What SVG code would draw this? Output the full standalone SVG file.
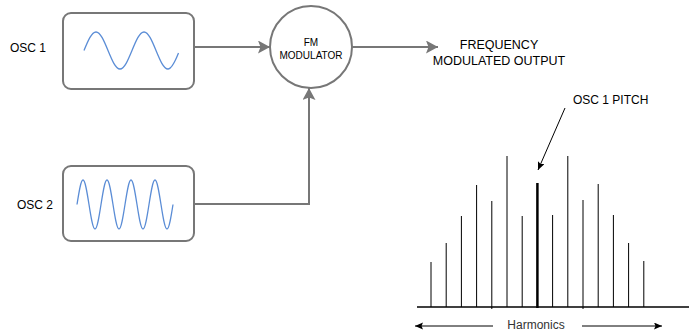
<svg xmlns="http://www.w3.org/2000/svg" width="699" height="331" viewBox="0 0 699 331">
  <style>
    .box { fill: #ffffff; stroke: #777777; stroke-width: 2; }
    .wave { fill: none; stroke: #5b8dd6; stroke-width: 1.3; }
    .conn { fill: none; stroke: #777777; stroke-width: 2; }
    .blk { fill: none; stroke: #000000; stroke-width: 1; }
    .spike { stroke: #000000; stroke-width: 1; }
    .lbl { font-family: "Liberation Sans", Arial, sans-serif; font-size: 12px; fill: #000000; }
    .out { font-family: "Liberation Sans", Arial, sans-serif; font-size: 12.5px; fill: #000000; }
    .small { font-family: "Liberation Sans", Arial, sans-serif; font-size: 10px; fill: #000000; }
  </style>
  <defs>
    <marker id="grayArrow" markerUnits="userSpaceOnUse" markerWidth="14" markerHeight="14" refX="12" refY="6.5" orient="auto">
      <path d="M0,0 L12,6.5 L0,13 L2.5,6.5 Z" fill="#777777"/>
    </marker>
    <marker id="blackArrow" markerUnits="userSpaceOnUse" markerWidth="10" markerHeight="10" refX="8" refY="3.5" orient="auto">
      <path d="M0,0 L8,3.5 L0,7 L1.5,3.5 Z" fill="#000000"/>
    </marker>
  </defs>

  <g id="osc1">
    <rect class="box" x="63" y="13" width="131" height="76" rx="8" ry="8"/>
    <path class="wave" d="M84,50.5 c 3.91,-9.48 7.66,-18.5 12,-18.5 c 4.34,0 8.09,9.02 12,18.5 c 3.91,9.48 7.66,18.5 12,18.5 c 4.34,0 8.09,-9.02 12,-18.5 c 3.91,-9.48 7.66,-18.5 12,-18.5 c 4.34,0 8.09,9.02 12,18.5 c 3.91,9.48 7.66,18.5 12,18.5 c 3.5,0 6.5,-6 10.5,-16"/>
    <text class="lbl" x="10" y="52">OSC 1</text>
  </g>

  <g id="osc2">
    <rect class="box" x="63" y="166" width="131" height="75" rx="8" ry="8"/>
    <path class="wave" d="M77,204.5 c 1.96,-12.55 3.83,-24.5 6,-24.5 c 2.17,0 4.04,11.950 6,24.5 c 1.96,12.55 3.83,24.5 6,24.5 c 2.17,0 4.04,-11.95 6,-24.5 c 1.96,-12.55 3.83,-24.5 6,-24.5 c 2.17,0 4.04,11.95 6,24.5 c 1.96,12.55 3.83,24.5 6,24.5 c 2.17,0 4.04,-11.95 6,-24.5 c 1.96,-12.55 3.83,-24.5 6,-24.5 c 2.17,0 4.04,11.95 6,24.5 c 1.96,12.55 3.83,24.5 6,24.5 c 2.17,0 4.04,-11.95 6,-24.5 c 1.96,-12.55 3.83,-24.5 6,-24.5 c 2.17,0 4.04,11.95 6,24.5 c 1.96,12.55 3.83,24.5 6,24.5 c 2.17,0 4.04,-11.95 6,-24.5"/>
    <text class="lbl" x="17" y="209">OSC 2</text>
  </g>

  <g id="fm-modulator">
    <circle class="box" cx="311" cy="47" r="41"/>
    <text class="small" x="311" y="46" text-anchor="middle">FM</text>
    <text class="small" x="311" y="59" text-anchor="middle">MODULATOR</text>
  </g>

  <g id="output">
    <text class="out" x="499" y="49" text-anchor="middle">FREQUENCY</text>
    <text class="out" x="499" y="65" text-anchor="middle">MODULATED OUTPUT</text>
  </g>

  <g id="connectors">
    <line class="conn" x1="194" y1="47" x2="270" y2="47" marker-end="url(#grayArrow)"/>
    <line class="conn" x1="352" y1="47" x2="438" y2="47" marker-end="url(#grayArrow)"/>
    <polyline class="conn" points="194,204 309,204 309,88" marker-end="url(#grayArrow)"/>
    <line class="blk" x1="565" y1="108" x2="538" y2="170" marker-end="url(#blackArrow)"/>
  </g>

  <g id="pitch-label">
    <text class="lbl" x="573" y="104">OSC 1 PITCH</text>
  </g>

  <g id="spectrum">
    <line x1="417" y1="307" x2="689" y2="307" stroke="#000000" stroke-width="1.5"/>
    <line class="spike" x1="431" y1="262" x2="431" y2="307"/>
    <line class="spike" x1="446.2" y1="243" x2="446.2" y2="307"/>
    <line class="spike" x1="461.4" y1="216" x2="461.4" y2="307"/>
    <line class="spike" x1="476.6" y1="185" x2="476.6" y2="307"/>
    <line class="spike" x1="491.8" y1="201" x2="491.8" y2="309"/>
    <line class="spike" x1="507" y1="156" x2="507" y2="307"/>
    <line class="spike" x1="522.2" y1="216" x2="522.2" y2="307"/>
    <line x1="537.4" y1="183" x2="537.4" y2="308" stroke="#000000" stroke-width="2.5"/>
    <line class="spike" x1="552.6" y1="215" x2="552.6" y2="307"/>
    <line class="spike" x1="567.8" y1="156" x2="567.8" y2="307"/>
    <line class="spike" x1="583" y1="200" x2="583" y2="309"/>
    <line class="spike" x1="598.2" y1="184" x2="598.2" y2="307"/>
    <line class="spike" x1="613.4" y1="215" x2="613.4" y2="307"/>
    <line class="spike" x1="628.6" y1="243" x2="628.6" y2="307"/>
    <line class="spike" x1="643.8" y1="261" x2="643.8" y2="307"/>
  </g>

  <g id="harmonics">
    <line class="blk" x1="493" y1="326" x2="415" y2="326" marker-end="url(#blackArrow)"/>
    <line class="blk" x1="582" y1="326" x2="662" y2="326" marker-end="url(#blackArrow)"/>
    <text class="lbl" x="536" y="329" text-anchor="middle" style="fill:#333333">Harmonics</text>
  </g>
</svg>
